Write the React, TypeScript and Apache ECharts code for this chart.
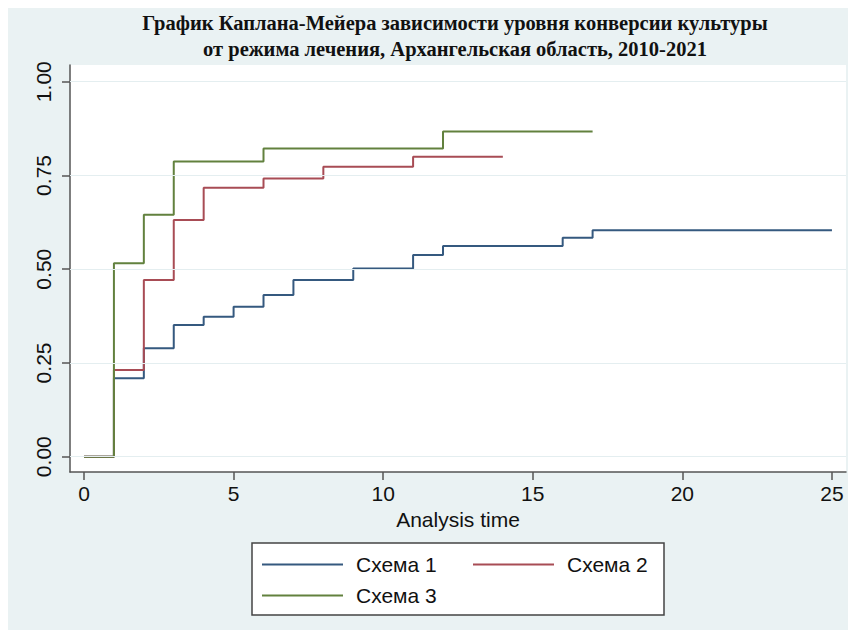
import React, { useEffect, useRef } from "react";
import * as echarts from "echarts";

const titleLines = [
  "График Каплана-Мейера зависимости уровня конверсии культуры",
  "от режима лечения, Архангельская область, 2010-2021",
];
const xAxisName = "Analysis time";
const xTicks = [0, 5, 10, 15, 20, 25];
const yTicks = [0, 0.25, 0.5, 0.75, 1];

const names = ["Схема 1", "Схема 2", "Схема 3"];
const colors = ["#35597f", "#a84c55", "#62813e"];

const time1 = [0, 1, 2, 3, 4, 5, 6, 7, 9, 11, 12, 16, 17, 25];
const surv1 = [0, 0.209, 0.289, 0.351, 0.373, 0.4, 0.431, 0.471, 0.502, 0.538, 0.562, 0.584, 0.604, 0.604];
const time2 = [0, 1, 2, 3, 4, 6, 8, 11, 14];
const surv2 = [0, 0.231, 0.471, 0.631, 0.717, 0.742, 0.773, 0.8, 0.8];
const time3 = [0, 1, 2, 3, 6, 12, 17];
const surv3 = [0, 0.516, 0.645, 0.787, 0.822, 0.867, 0.867];

const times = [time1, time2, time3];
const survs = [surv1, surv2, surv3];

export default function App() {
  const ref = useRef<HTMLDivElement>(null);
  useEffect(() => {
    if (!ref.current) return;
    const chart = echarts.init(ref.current, undefined, { renderer: "svg" });
    const font = "Liberation Sans, Arial, sans-serif";
    const series: any[] = [
      {
        type: "line",
        name: "__grid",
        data: [[0, 0]],
        symbol: "none",
        lineStyle: { opacity: 0 },
        silent: true,
        z: 1,
        markLine: {
          silent: true,
          symbol: ["none", "none"],
          label: { show: false },
          lineStyle: { color: "#e4eef0", width: 1, type: "solid" },
          data: yTicks.map((v) => ({ yAxis: v })),
        },
      },
    ];
    names.forEach((n, i) => {
      series.push({
        type: "line",
        name: n,
        step: "end",
        symbol: "none",
        color: colors[i],
        lineStyle: { color: colors[i], width: 2 },
        data: times[i].map((t, k) => [t, survs[i][k]]),
        z: 3,
      });
    });
    const legendPos = [
      { left: 262, top: 554 },
      { left: 473, top: 554 },
      { left: 262, top: 585 },
    ];
    chart.setOption({
      animation: false,
      backgroundColor: "#eaf2f3",
      grid: {
        left: 70,
        right: 10,
        top: 65,
        bottom: 166,
        show: true,
        backgroundColor: "#ffffff",
        borderWidth: 0,
      },
      xAxis: {
        type: "value",
        min: -0.468,
        max: 25.47,
        name: xAxisName,
        nameLocation: "middle",
        nameGap: 35,
        nameTextStyle: { fontSize: 21, color: "#111", fontFamily: font },
        axisLine: { onZero: false, lineStyle: { color: "#555", width: 1.5 } },
        axisTick: { show: true, length: 8, customValues: xTicks, lineStyle: { color: "#555", width: 1.5 } },
        axisLabel: { customValues: xTicks, margin: 11, fontSize: 21, color: "#111", fontFamily: font },
        splitLine: { show: false },
      },
      yAxis: {
        type: "value",
        min: -0.0408,
        max: 1.0445,
        axisLine: { show: true, onZero: false, lineStyle: { color: "#555", width: 1.5 } },
        axisTick: { show: true, length: 8, customValues: yTicks, lineStyle: { color: "#555", width: 1.5 } },
        axisLabel: {
          customValues: yTicks,
          rotate: 90,
          margin: 16,
          fontSize: 21,
          color: "#111",
          fontFamily: font,
          formatter: (v: number) => v.toFixed(2),
        },
        splitLine: { show: false },
      },
      legend: names.map((n, i) => ({
        data: [n],
        left: legendPos[i].left,
        top: legendPos[i].top,
        padding: 0,
        icon: "rect",
        itemWidth: 81,
        itemHeight: 2,
        selectedMode: false,
        textStyle: { fontSize: 21, lineHeight: 21, color: "#111", fontFamily: font, padding: [0, 0, 0, 8] },
      })),
      graphic: [
        {
          type: "rect",
          z: 0,
          shape: { x: 252, y: 543, width: 412, height: 72 },
          style: { fill: "#ffffff", stroke: "#444", lineWidth: 1.5 },
        },
        {
          type: "text",
          x: 455,
          y: 10,
          style: {
            text: titleLines.join("\n"),
            textAlign: "center",
            fontFamily: "Liberation Serif, Times New Roman, serif",
            fontWeight: "bold",
            fontSize: 20.5,
            lineHeight: 26,
            fill: "#111",
          },
        },
      ],
      series,
    });
    return () => chart.dispose();
  }, []);
  return <div ref={ref} style={{ width: 856, height: 638, margin: -8 }} />;
}
